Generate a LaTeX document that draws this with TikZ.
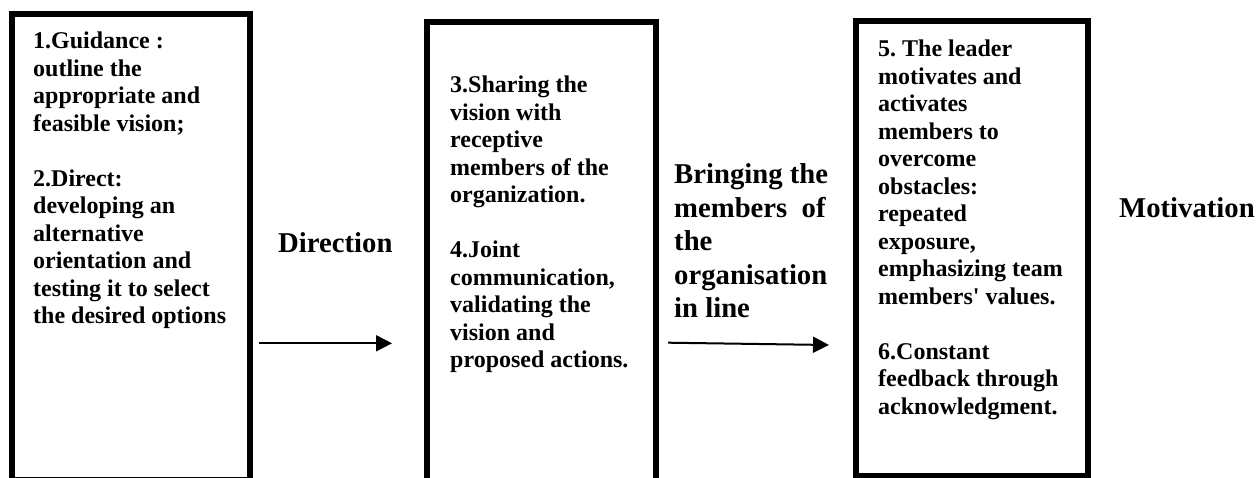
\documentclass[tikz,border=0pt]{standalone}
\usepackage{fontspec}
\setmainfont{Liberation Serif}
\usetikzlibrary{arrows.meta}
\frenchspacing
\begin{document}
\begin{tikzpicture}[x=1pt,y=-1pt,
  boxframe/.style={draw=black, line width=6pt, line join=miter, inner sep=0pt, outer sep=0pt},
  boxtext/.style={anchor=base west, inner sep=0pt, font=\bfseries\fontsize{24pt}{27.5pt}\selectfont},
  phase/.style={anchor=base west, inner sep=0pt, font=\bfseries\fontsize{28.7pt}{33.5pt}\selectfont},
  flow/.style={line width=2pt, -{Triangle[length=16pt,width=16pt]}}
]
\useasboundingbox (0,0) rectangle (1260,478);
\begin{scope}
\clip (0,0) rectangle (1260,478);
% frames
\node[boxframe, minimum width=238pt, minimum height=466pt] (box1) at (131,247) {};
\node[boxframe, minimum width=229pt, minimum height=478pt] (box2) at (541.5,261) {};
\node[boxframe, minimum width=232pt, minimum height=455pt] (box3) at (972,248.5) {};
% box texts
\node[boxtext] (t1) at (33,49) {\parbox[t]{212pt}{\raggedright\frenchspacing
1.Guidance :\\
outline the\\
appropriate and\\
feasible vision;\\[27.5pt]
2.Direct:\\
developing an\\
alternative\\
orientation and\\
testing it to select\\
the desired options}};
\node[boxtext] (t2) at (450,93) {\parbox[t]{200pt}{\raggedright\frenchspacing
3.Sharing the\\
vision with\\
receptive\\
members of the\\
organization.\\[27.5pt]
4.Joint\\
communication,\\
validating the\\
vision and\\
proposed actions.}};
\node[boxtext] (t3) at (878,57) {\parbox[t]{205pt}{\raggedright\frenchspacing
5. The leader\\
motivates and\\
activates\\
members to\\
overcome\\
obstacles:\\
repeated\\
exposure,\\
emphasizing team\\
members\textquotesingle{} values.\\[27.5pt]
6.Constant\\
feedback through\\
acknowledgment.}};
% phase labels
\node[phase] (l1) at (278,252) {Direction};
\node[phase] (l2) at (674,184) {\parbox[t]{200pt}{\raggedright
Bringing the\\
members\ \ of\\
the\\
organisation\\
in line}};
\node[phase] (l3) at (1119,218) {Motivation};
% arrows
\coordinate (a1s) at (259,343.3);
\coordinate (a1e) at (392,343.3);
\coordinate (a2s) at (668,342.7);
\coordinate (a2e) at (829,345);
\draw[flow] (a1s) -- (a1e);
\draw[flow] (a2s) -- (a2e);
\end{scope}
\end{tikzpicture}
\end{document}
